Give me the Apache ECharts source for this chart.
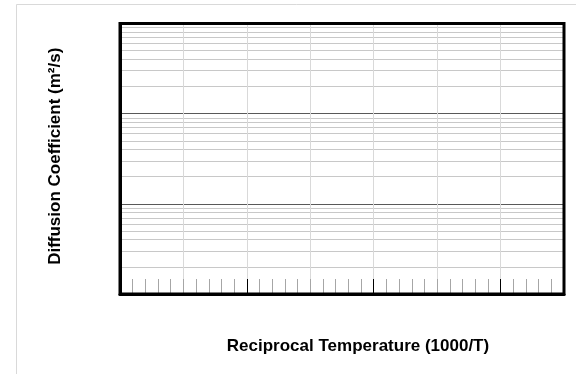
<!DOCTYPE html>
<html><head><meta charset="utf-8">
<script src="https://cdn.jsdelivr.net/npm/echarts@6/dist/echarts.min.js"></script>
<style>html,body{margin:0;padding:0;background:#fff}#c{width:576px;height:374px}</style>
</head><body><div id="c"></div>
<script>
// Axis ranges (no labels shown in the reference)
var xRange = [0, 3.5];
var xGridInterval = 0.5;
var xMajorInterval = 1;
var yRange = [1e-12, 1e-9];
var yMinor = [];
[1e-12, 1e-11, 1e-10].forEach(function (d) { for (var k = 2; k <= 9; k++) yMinor.push(k * d); });
var xTitle = 'Reciprocal Temperature (1000/T)';
var yTitle = 'Diffusion Coefficient (m\u00B2/s)';

var font = 'Liberation Sans';
var chart = echarts.init(document.getElementById('c'));
chart.setOption({
  animation: false,
  backgroundColor: '#fff',
  graphic: [{ type: 'rect', shape: { x: 16.5, y: 4.5, width: 700, height: 500 }, style: { fill: 'none', stroke: '#d9d9d9', lineWidth: 1 }, z: -10 }],
  grid: { left: 120, right: 12, top: 23.5, bottom: 80, show: true, z: 10, borderColor: '#000', borderWidth: 3, backgroundColor: 'rgba(0,0,0,0)' },
  xAxis: [{
    type: 'value', min: xRange[0], max: xRange[1], interval: xGridInterval,
    axisLine: { show: true, lineStyle: { color: '#000', width: 3 } },
    axisTick: { show: true, inside: true, length: 15, lineStyle: { color: '#a6a6a6' } },
    minorTick: { show: true, splitNumber: 5, length: 15, lineStyle: { color: '#a6a6a6' } },
    axisLabel: { show: false },
    splitLine: { show: true, lineStyle: { color: '#d9d9d9', width: 1 } },
    name: xTitle, nameLocation: 'middle', nameGap: 44,
    nameTextStyle: { fontFamily: font, fontWeight: 'bold', fontSize: 17, color: '#000', padding: [0, 0, 0, 32] }
  }, {
    type: 'value', min: xRange[0], max: xRange[1], interval: xMajorInterval, position: 'bottom',
    axisLine: { show: false },
    axisTick: { show: true, inside: true, length: 15, lineStyle: { color: '#000' } },
    axisLabel: { show: false }, splitLine: { show: false }
  }],
  yAxis: [{
    type: 'log', logBase: 10, min: yRange[0], max: yRange[1],
    axisLine: { show: true, lineStyle: { color: '#000', width: 3 } },
    axisTick: { show: false }, axisLabel: { show: false },
    splitLine: { show: true, lineStyle: { color: '#595959', width: 1 } },
    name: yTitle, nameLocation: 'middle', nameGap: 56, nameRotate: 90,
    nameTextStyle: { fontFamily: font, fontWeight: 'bold', fontSize: 17, color: '#000', padding: [0, 0, 0, 5] }
  }, {
    type: 'log', logBase: 10, min: yRange[0], max: yRange[1], position: 'left',
    axisLine: { show: false },
    axisTick: { show: false, customValues: yMinor },
    axisLabel: { show: false, customValues: yMinor },
    splitLine: { show: true, lineStyle: { color: '#c8c8c8', width: 1 } }
  }],
  series: [{ type: 'scatter', data: [], xAxisIndex: 0, yAxisIndex: 0 }]
});
</script></body></html>
